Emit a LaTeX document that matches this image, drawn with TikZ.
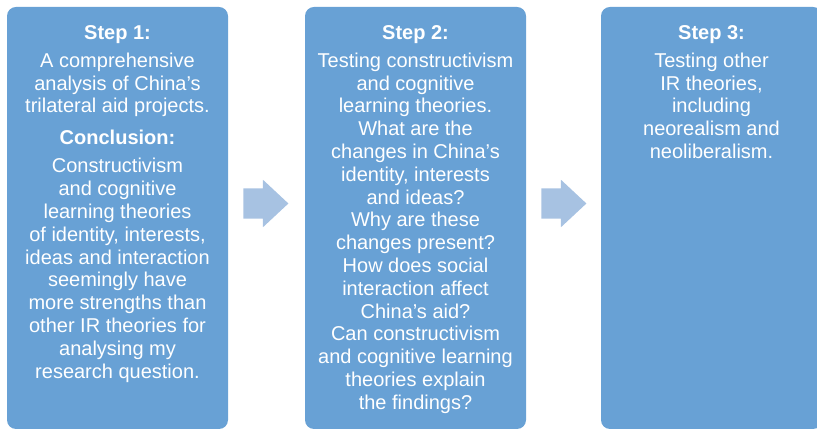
\documentclass[tikz,border=0pt]{standalone}
\usepackage{fontspec}
\setmainfont{Liberation Sans}
\usetikzlibrary{positioning, shapes.arrows}

\definecolor{stepblue}{RGB}{104,161,213}
\definecolor{arrowblue}{RGB}{167,194,226}

\begin{document}
\begin{tikzpicture}[x = 1pt, y = 1pt,
	stepbox/.style = {rectangle, rounded corners = 9pt, fill = stepblue, minimum width = 221pt, minimum height = 422pt, inner sep = 0pt},
	steptext/.style = {align = center, text = white, inner sep = 0pt, font = \fontsize{20pt}{22.8pt}\selectfont},
	steparrow/.style = {single arrow, fill = arrowblue, minimum height = 45pt, single arrow head extend = 8.5pt, single arrow tip angle = 86, inner xsep = 0pt, inner ysep = 15pt}]

	\useasboundingbox (0, 0) rectangle (817, 430);

	% the three steps
	\node [stepbox] (box1) at (117.5, 212) {};
	\node [stepbox] (box2) at (415.5, 212) {};
	\node [stepbox] (box3) at (711.5, 212) {};

	\node [steptext, below = 18.4pt of box1.north] (text1) {\textbf{Step 1:}\\[5.2pt]
		A comprehensive\\ analysis of China’s\\ trilateral aid projects.\\[9.2pt]
		\textbf{Conclusion:}\\[5.2pt]
		Constructivism\\ and cognitive\\ learning theories\\ of identity, interests,\\ ideas and interaction\\
		seemingly have\\ more strengths than\\ other IR theories for\\ analysing my\\ research question.};

	\node [steptext, below = 18.4pt of box2.north] (text2) {\textbf{Step 2:}\\[5.2pt]
		Testing constructivism\\ and cognitive\\ learning theories.\\ What are the\\ changes in China’s\\
		identity, interests\\ and ideas?\\ Why are these\\ changes present?\\ How does social\\
		interaction affect\\ China’s aid?\\ Can constructivism\\ and cognitive learning\\ theories explain\\ the findings?};

	\node [steptext, below = 18.4pt of box3.north] (text3) {\textbf{Step 3:}\\[5.2pt]
		Testing other\\ IR theories,\\ including\\ neorealism and\\ neoliberalism.};

	% arrows between the steps
	\node [steparrow, right = 15pt of box1.east, yshift = 14.5pt] (arrow1) {};
	\node [steparrow, right = 15pt of box2.east, yshift = 14.5pt] (arrow2) {};

\end{tikzpicture}
\end{document}
